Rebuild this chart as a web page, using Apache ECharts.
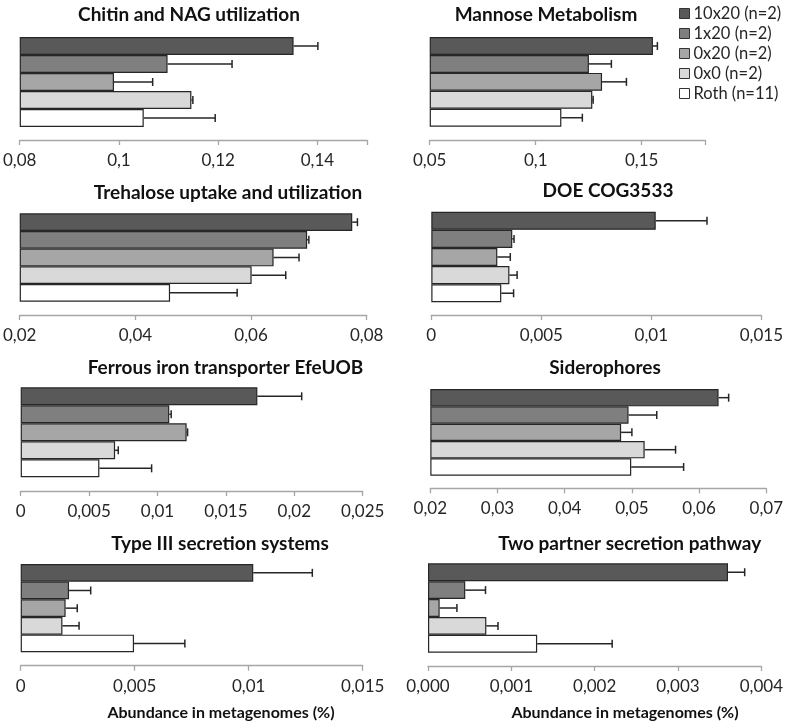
<!DOCTYPE html>
<html>
<head>
<meta charset="utf-8">
<script src="https://cdn.jsdelivr.net/npm/echarts@6/dist/echarts.min.js"></script>
<style>html,body{margin:0;padding:0;background:#fff}#c{width:786px;height:724px}</style>
</head>
<body>
<div id="c"></div>
<script>
// ---------- data ----------
const groups = ['10x20 (n=2)', '1x20 (n=2)', '0x20 (n=2)', '0x0 (n=2)', 'Roth (n=11)'];
const panelTitles = ['Chitin and NAG utilization', 'Mannose Metabolism', 'Trehalose uptake and utilization', 'DOE COG3533',
  'Ferrous iron transporter EfeUOB', 'Siderophores', 'Type III secretion systems', 'Two partner secretion pathway'];
const axisTitle = 'Abundance in metagenomes (%)';

const chitinMean = [0.1352, 0.1098, 0.0990, 0.1146, 0.1050];
const chitinErr = [0.0049, 0.0130, 0.0078, 0.0003, 0.0144];
const mannoseMean = [0.1553, 0.1251, 0.1313, 0.1267, 0.1121];
const mannoseErr = [0.0021, 0.0106, 0.0115, 0.0004, 0.0099];
const trehaloseMean = [0.0775, 0.0697, 0.0639, 0.0601, 0.0460];
const trehaloseErr = [0.0009, 0.0003, 0.0044, 0.0059, 0.0116];
const doeMean = [0.0102, 0.00368, 0.0030, 0.00355, 0.00318];
const doeErr = [0.00233, 0.00008, 0.00059, 0.00035, 0.00056];
const ferrousMean = [0.0173, 0.01086, 0.01213, 0.0069, 0.00575];
const ferrousErr = [0.00324, 0.00014, 0.00007, 0.00023, 0.00382];
const sideroMean = [0.0629, 0.0495, 0.0484, 0.0519, 0.0499];
const sideroErr = [0.0015, 0.0042, 0.0016, 0.0046, 0.0078];
const type3Mean = [0.0102, 0.00212, 0.00197, 0.00183, 0.00497];
const type3Err = [0.00259, 0.00095, 0.00051, 0.00073, 0.00223];
const twoPartnerMean = [0.0036, 0.000447, 0.00014, 0.0007, 0.00131];
const twoPartnerErr = [0.0002, 0.000243, 0.000207, 0.00014, 0.0009];

const axisMin = [0.08, 0.05, 0.02, 0, 0, 0.02, 0, 0];
const axisMax = [0.15, 0.18, 0.08, 0.015, 0.025, 0.07, 0.015, 0.004];
const axisStep = [0.02, 0.05, 0.02, 0.005, 0.005, 0.01, 0.005, 0.001];
const tickLabels = [
  ['0,08', '0,1', '0,12', '0,14', ''],
  ['0,05', '0,1', '0,15', ''],
  ['0,02', '0,04', '0,06', '0,08'],
  ['0', '0,005', '0,01', '0,015'],
  ['0', '0,005', '0,01', '0,015', '0,02', '0,025'],
  ['0,02', '0,03', '0,04', '0,05', '0,06', '0,07'],
  ['0', '0,005', '0,01', '0,015'],
  ['0,000', '0,001', '0,002', '0,003', '0,004']
];

// ---------- styles / layout ----------
const means = [chitinMean, mannoseMean, trehaloseMean, doeMean, ferrousMean, sideroMean, type3Mean, twoPartnerMean];
const errs = [chitinErr, mannoseErr, trehaloseErr, doeErr, ferrousErr, sideroErr, type3Err, twoPartnerErr];
const colors = ['#595959', '#7f7f7f', '#a6a6a6', '#d9d9d9', '#ffffff'];
// [left, right, barTop, barBottom, axisY]
const boxes = [
  [18, 367, 37, 127, 140],
  [429.7, 705.3, 37, 126.7, 140],
  [18.3, 366.7, 213.3, 301.7, 315],
  [431.3, 762, 211.7, 302.3, 315],
  [20.7, 362.7, 387.3, 477.3, 491],
  [430.3, 767, 389, 475.7, 488.3],
  [20.7, 362.7, 564, 652.3, 665.7],
  [428, 762.3, 563.3, 652.7, 666]
];
const titlePos = [[189, 15], [546, 15], [228, 193], [608, 191], [225.5, 368], [605, 368], [220, 544], [629.7, 544]];
const axisTitlePos = [[221, 713], [625, 713]];
const FONT = 'Lato, "Open Sans", sans-serif';

const grid = [], xAxis = [], yAxis = [], series = [], graphic = [];
boxes.forEach((b, p) => {
  grid.push({ left: b[0], top: b[2], width: b[1] - b[0], height: b[3] - b[2], containLabel: false });
  xAxis.push({
    type: 'value', gridIndex: p, min: axisMin[p], max: axisMax[p], interval: axisStep[p],
    startValue: axisMin[p], offset: b[4] - b[3],
    axisLine: { show: true, lineStyle: { color: '#a6a6a6', width: 1.3 } },
    axisTick: { show: true, length: 5, lineStyle: { color: '#a6a6a6', width: 1.3 } },
    splitLine: { show: false },
    axisLabel: {
      margin: 12, fontSize: 17, fontFamily: FONT, color: '#262626',
      showMinLabel: true, showMaxLabel: true,
      formatter: (v, i) => (tickLabels[p][i] !== undefined ? tickLabels[p][i] : '')
    }
  });
  yAxis.push({
    type: 'category', gridIndex: p, data: groups, inverse: true,
    axisLine: { show: false }, axisTick: { show: false }, axisLabel: { show: false }, splitLine: { show: false }
  });
  groups.forEach((g, i) => {
    series.push({
      type: 'bar', name: g, xAxisIndex: p, yAxisIndex: p,
      barGap: '-100%', barCategoryGap: 0,
      itemStyle: { color: colors[i], borderColor: '#262626', borderWidth: 1.2 },
      emphasis: { disabled: true },
      data: groups.map((_, k) => (k === i ? means[p][i] : '-'))
    });
  });
  series.push({
    type: 'custom', xAxisIndex: p, yAxisIndex: p, silent: true, clip: false,
    encode: { x: 0, y: 1 },
    data: groups.map((_, i) => [means[p][i] + errs[p][i], i, means[p][i]]),
    renderItem: (params, api) => {
      const end = api.coord([api.value(0), api.value(1)]);
      const start = api.coord([api.value(2), api.value(1)]);
      const st = { stroke: '#262626', lineWidth: 1.5 };
      return {
        type: 'group',
        children: [
          { type: 'line', shape: { x1: start[0], y1: end[1], x2: end[0], y2: end[1] }, style: st },
          { type: 'line', shape: { x1: end[0], y1: end[1] - 4, x2: end[0], y2: end[1] + 4 }, style: st }
        ]
      };
    }
  });
  graphic.push({
    type: 'text', x: titlePos[p][0], y: titlePos[p][1],
    style: { text: panelTitles[p], textAlign: 'center', textVerticalAlign: 'middle', font: 'bold 19px ' + FONT, fill: '#111' }
  });
});
axisTitlePos.forEach(pos => {
  graphic.push({
    type: 'text', x: pos[0], y: pos[1],
    style: { text: axisTitle, textAlign: 'center', textVerticalAlign: 'middle', font: 'bold 16px ' + FONT, fill: '#111' }
  });
});

const chart = echarts.init(document.getElementById('c'), null, { renderer: 'canvas' });
chart.setOption({
  animation: false,
  backgroundColor: '#fff',
  grid, xAxis, yAxis, series, graphic,
  legend: {
    data: groups, orient: 'vertical', left: 679, top: 5, padding: 0,
    itemWidth: 10, itemHeight: 10, itemGap: 3, icon: 'rect',
    itemStyle: { borderColor: '#333', borderWidth: 1 },
    textStyle: { fontSize: 16.5, fontFamily: FONT, color: '#262626', lineHeight: 17, padding: [0, 0, 0, -1] },
    selectedMode: false
  }
});
</script>
</body>
</html>
